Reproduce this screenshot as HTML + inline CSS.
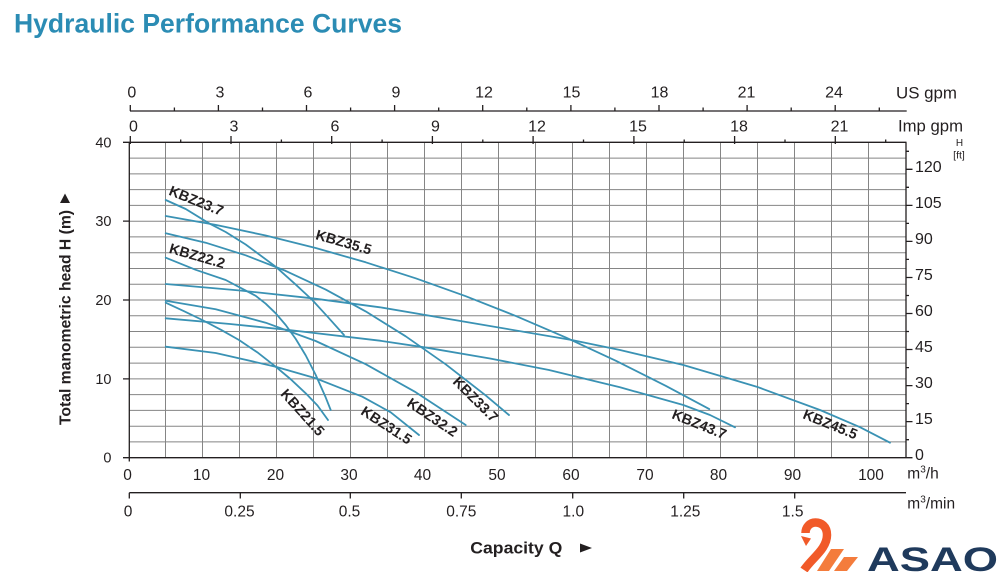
<!DOCTYPE html>
<html><head><meta charset="utf-8"><style>
html,body{margin:0;padding:0;background:#fff;}
svg{display:block;}
text{font-family:"Liberation Sans",Arial,sans-serif;fill:#231f20;}
</style></head><body>
<svg width="999" height="572" viewBox="0 0 999 572" xmlns="http://www.w3.org/2000/svg">
<rect width="999" height="572" fill="#fff"/>
<text x="14" y="32.5" font-size="26.5" font-weight="bold" style="fill:#2b8cb4" textLength="388" lengthAdjust="spacingAndGlyphs">Hydraulic Performance Curves</text>

<!-- grid -->
<g stroke="#858585" stroke-width="1" fill="none">
<path d="M165.5 142.3V457.7M202.5 142.3V457.7M239.5 142.3V457.7M276.5 142.3V457.7M313.5 142.3V457.7M350.5 142.3V457.7M387.5 142.3V457.7M424.5 142.3V457.7M461.5 142.3V457.7M498.5 142.3V457.7M535.5 142.3V457.7M572.5 142.3V457.7M609.5 142.3V457.7M646.5 142.3V457.7M683.5 142.3V457.7M720.5 142.3V457.7M757.5 142.3V457.7M794.5 142.3V457.7M831.5 142.3V457.7M868.5 142.3V457.7"/>
<path d="M129 441.9H906M129 426.2H906M129 410.4H906M129 394.6H906M129 378.9H906M129 363.1H906M129 347.3H906M129 331.5H906M129 315.8H906M129 300H906M129 284.2H906M129 268.5H906M129 252.7H906M129 236.9H906M129 221.2H906M129 205.4H906M129 189.6H906M129 173.9H906M129 158.1H906"/>
</g>

<!-- axes -->
<g stroke="#231f20" stroke-width="1.3" fill="none">
<path d="M123 142.3H906.5M129.3 142.3V461.5M123 457.7H906M906 142.3V457.7"/>
<path d="M123 221.1H129.3M123 300H129.3M123 378.9H129.3"/>
<path d="M130 111H906.7"/>
<path d="M130.3 105V111M218.4 105V111M306.5 105V111M394.6 105V111M482.7 105V111M570.9 105V111M659 105V111M747.1 105V111M835.2 105V111"/>
<path d="M174.4 107.5V111M262.5 107.5V111M350.6 107.5V111M438.7 107.5V111M526.8 107.5V111M614.9 107.5V111M703.1 107.5V111M791.2 107.5V111M879.3 107.5V111"/>
<path d="M130.3 136V144M231 136V144M331.7 136V144M432.4 136V144M533.1 136V144M633.9 136V144M734.6 136V144M835.3 136V144"/>
<path d="M180.7 139.5V143M281.4 139.5V143M382.1 139.5V143M482.8 139.5V143M583.5 139.5V143M684.2 139.5V143M785 139.5V143M885.7 139.5V143"/>
<path d="M906 457.7H912.5M906 421.6H912.5M906 385.6H912.5M906 349.5H912.5M906 313.5H912.5M906 277.5H912.5M906 241.4H912.5M906 205.4H912.5M906 169.3H912.5"/>
<path d="M906 439.7H909M906 403.6H909M906 367.6H909M906 331.5H909M906 295.5H909M906 259.4H909M906 223.4H909M906 187.3H909M906 151.3H909"/>
<path d="M129.3 492.7H906"/>
<path d="M129.3 492.7V498.5M240.3 492.7V498.5M350.3 492.7V498.5M461.3 492.7V498.5M572.7 492.7V498.5M683.7 492.7V498.5M794.7 492.7V498.5"/>
</g>

<!-- top labels -->
<g font-size="16" text-anchor="middle">
<text x="131.8" y="97.7">0</text><text x="219.9" y="97.7">3</text><text x="308" y="97.7">6</text><text x="396" y="97.7">9</text><text x="484" y="97.7">12</text><text x="571.5" y="97.7">15</text><text x="659.5" y="97.7">18</text><text x="746.5" y="97.7">21</text><text x="834" y="97.7">24</text>
<text x="133.5" y="131.7">0</text><text x="234" y="131.7">3</text><text x="335" y="131.7">6</text><text x="435.5" y="131.7">9</text><text x="537" y="131.7">12</text><text x="638" y="131.7">15</text><text x="739" y="131.7">18</text><text x="839.5" y="131.7">21</text>
</g>
<text x="896" y="98.3" font-size="16.5" textLength="61" lengthAdjust="spacingAndGlyphs">US gpm</text>
<text x="898" y="131.7" font-size="16.5" textLength="65" lengthAdjust="spacingAndGlyphs">Imp gpm</text>
<text x="959.5" y="146" font-size="10" text-anchor="middle">H</text>
<text x="959" y="158.5" font-size="10.5" text-anchor="middle">[ft]</text>

<!-- left labels -->
<g font-size="14.5" text-anchor="end" dominant-baseline="central">
<text x="111.5" y="143.5">40</text><text x="111.5" y="222">30</text><text x="111.5" y="301">20</text><text x="111.5" y="380">10</text><text x="111.5" y="458.5">0</text>
</g>
<!-- right labels -->
<g font-size="16" dominant-baseline="central">
<text x="915" y="455.7">0</text><text x="915" y="419.6">15</text><text x="915" y="383.6">30</text><text x="915" y="347.5">45</text><text x="915" y="311.5">60</text><text x="915" y="275.5">75</text><text x="915" y="239.4">90</text><text x="915" y="203.4">105</text><text x="915" y="167.3">120</text>
</g>

<!-- bottom labels -->
<g font-size="15.5" text-anchor="middle">
<text x="127.5" y="480">0</text><text x="201.5" y="480">10</text><text x="275.5" y="480">20</text><text x="349" y="480">30</text><text x="422.5" y="480">40</text><text x="497" y="480">50</text><text x="571" y="480">60</text><text x="645" y="480">70</text><text x="718.5" y="480">80</text><text x="792.5" y="480">90</text><text x="871" y="480">100</text>
<text x="128" y="516.7">0</text><text x="239.5" y="516.7">0.25</text><text x="349.5" y="516.7">0.5</text><text x="461.3" y="516.7">0.75</text><text x="573.3" y="516.7">1.0</text><text x="685.3" y="516.7">1.25</text><text x="792.7" y="516.7">1.5</text>
</g>
<text x="907.3" y="478.3" font-size="15.5">m<tspan font-size="10" dy="-6">3</tspan><tspan dy="6">/h</tspan></text>
<text x="907.3" y="508.3" font-size="15.5">m<tspan font-size="10" dy="-6">3</tspan><tspan dy="6">/min</tspan></text>

<!-- axis titles -->
<text x="470.3" y="553.5" font-size="16.5" font-weight="bold" textLength="92" lengthAdjust="spacingAndGlyphs">Capacity Q</text>
<polygon points="580,543.5 592,548 580,552.5" fill="#231f20"/>
<text transform="translate(70.5,425) rotate(-90)" font-size="15.7" font-weight="bold" textLength="215" lengthAdjust="spacingAndGlyphs">Total manometric head H (m)</text>
<polygon points="60,203 70,203 65,193.5" fill="#231f20"/>

<!-- curves -->
<g stroke="#3a92b4" stroke-width="1.8" fill="none" stroke-linejoin="round" stroke-linecap="round">
<polyline points="165.7,200 185.7,209 209,223.3 225.7,232 245.7,244.5 275.7,266.7 295.7,284.6 312.3,300 327.7,316.8 344,335"/>
<polyline points="165.7,216 215.7,224.9 265.7,235.5 315.7,248 365.7,262.3 415.7,278.3 465.7,296.2 515.7,315.9 565.7,337.4 615.7,360.7 665.7,385.8 709.3,409.1"/>
<polyline points="165.7,233.3 205.7,242.7 245.7,255.3 285.7,270.9 325.7,289.6 365.7,311.4 405.7,336.3 445.7,364.3 485.7,395.4 509,415"/>
<polyline points="165.7,257.7 195.7,269.8 225.7,280 255.7,295.8 265.7,303.7 275.7,313.3 285.7,325 295.7,338.9 305.7,355.4 315.7,374.9 325.7,397.4 330.7,410"/>
<polyline points="165.7,302.7 184,311.2 202.3,320 221,329.8 239,340 258,352.8 275.7,366.7 291,379.5 305.7,393.3 317.5,405.5 328,420"/>
<polyline points="165.7,300.7 215.7,309.3 265.7,322.7 315.7,341 365.7,364.2 415.7,392.2 465.7,425"/>
<polyline points="165.7,346.7 215.7,353 275.7,366.7 315.7,378.3 362.3,396.7 390.7,412.3 419,435"/>
<polyline points="165.7,318.3 230,324 289,330 380,340.7 426.7,347.7 490,358.5 549,370 620,387.3 683.3,405 710,415 735,427.3"/>
<polyline points="165.7,284 240,290.5 312.3,298.3 380,307.3 470,322.6 571.7,340 620,350 683.3,365 756.7,386.7 820,410 860,427.2 890,442.7"/>
</g>

<!-- curve labels -->
<g font-size="14.3" font-weight="bold" text-anchor="middle" dominant-baseline="central">
<text transform="translate(196,201.5) rotate(22)">KBZ23.7</text>
<text transform="translate(343.5,243) rotate(16)">KBZ35.5</text>
<text transform="translate(197,256.7) rotate(16)">KBZ22.2</text>
<text transform="translate(302,413) rotate(48)">KBZ21.5</text>
<text transform="translate(386,426) rotate(33)">KBZ31.5</text>
<text transform="translate(432,418) rotate(34)">KBZ32.2</text>
<text transform="translate(475,400) rotate(45)">KBZ33.7</text>
<text transform="translate(699,425) rotate(22)">KBZ43.7</text>
<text transform="translate(830,425) rotate(22)">KBZ45.5</text>
</g>

<!-- logo -->
<g>
<path d="M804 570 C812 558, 827 549, 827 535 C827 526, 821 522.5, 815.5 522.5 C809.5 522.5, 805.5 527.5, 805.5 533" stroke="#f15a29" stroke-width="8.5" fill="none"/>
<polygon points="801,536 811,538.5 806,546" fill="#f15a29"/>
<polygon points="817,571 831,549 844,549 829,571" fill="#f47c3c"/>
<polygon points="834,571 844,557 858,557 847,571" fill="#f47c3c"/>
<text x="867" y="571" font-size="34" font-weight="bold" style="fill:#1f3a5c" textLength="131" lengthAdjust="spacingAndGlyphs">ASAO</text>
</g>
</svg>
</body></html>
